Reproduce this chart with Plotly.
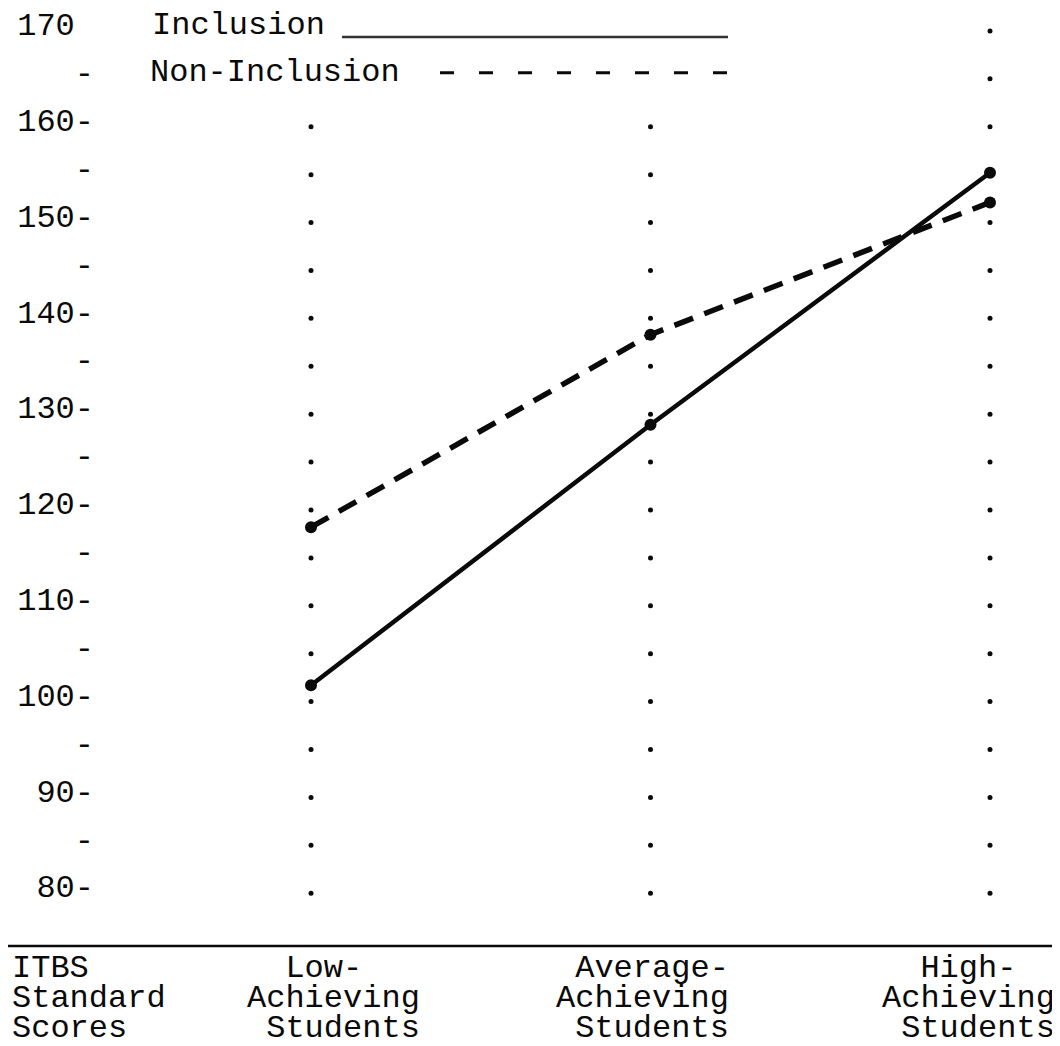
import plotly.graph_objects as go

# ---- data ----
categories = ["Low", "Average", "High"]
cat_label_lines = [
    ["\u00a0\u00a0Low-", "Achieving", "\u00a0Students"],
    ["\u00a0Average-", "Achieving", "\u00a0Students"],
    ["\u00a0\u00a0High-", "Achieving", "\u00a0Students"],
]
inclusion = [101.7, 128.9, 155.2]
non_inclusion = [118.2, 138.3, 152.1]
grid_top = [160, 160, 170]          # top dotted mark of each column
tick_vals = [170, 165, 160, 155, 150, 145, 140, 135, 130, 125, 120, 115, 110, 105, 100, 95, 90, 85, 80]
tick_text = ["170\u00a0", "-", "160-", "-", "150-", "-", "140-", "-", "130-", "-", "120-", "-",
             "110-", "-", "100-", "-", "90-", "-", "80-"]
y_title_lines = ["ITBS", "Standard", "Scores"]
legend_names = ["Inclusion", "Non-Inclusion"]

FONT = "Liberation Mono"
FS = 32
INK = "#0a0a0a"

# page offset from default body margin
OFF = 8
L_MARGIN = 90
PLOT_LEFT = OFF + L_MARGIN
W_PLOT = 1052.0 - L_MARGIN
H_PLOT = 938.0


def px_x(px):
    return (px - PLOT_LEFT) / W_PLOT


def px_y(py):
    return (946 - py) / H_PLOT


fig = go.Figure()

# dotted vertical guides
for cat, top in zip(categories, grid_top):
    ys = [v for v in tick_vals if v <= top]
    fig.add_trace(go.Scatter(x=[cat] * len(ys), y=ys, mode="markers",
                             marker=dict(size=5, color=INK), showlegend=False, hoverinfo="skip"))

fig.add_trace(go.Scatter(x=categories, y=non_inclusion, mode="lines+markers", name=legend_names[1],
                         line=dict(color=INK, width=5.5, dash="20px,12px"),
                         marker=dict(size=12, color=INK), showlegend=False))
fig.add_trace(go.Scatter(x=categories, y=inclusion, mode="lines+markers", name=legend_names[0],
                         line=dict(color=INK, width=4.5),
                         marker=dict(size=12, color=INK), showlegend=False))

annotations = []
# legend text
annotations.append(dict(xref="paper", yref="paper", x=px_x(150), y=px_y(23),
                        xanchor="left", yanchor="middle", text=legend_names[0], showarrow=False))
annotations.append(dict(xref="paper", yref="paper", x=px_x(148), y=px_y(70),
                        xanchor="left", yanchor="middle", text=legend_names[1], showarrow=False))
# category labels (3 lines each)
block_shift = [-66, -97, -110]
for cat, lines, sh in zip(categories, cat_label_lines, block_shift):
    for i, ln in enumerate(lines):
        annotations.append(dict(xref="x", yref="paper", x=cat, y=0, xanchor="left", yanchor="middle",
                                xshift=sh, yshift=-22 - 30 * i, text=ln, showarrow=False))
# y title at bottom-left
for i, ln in enumerate(y_title_lines):
    annotations.append(dict(xref="paper", yref="paper", x=px_x(10), y=0, xanchor="left", yanchor="middle",
                            yshift=-22 - 30 * i, text=ln, showarrow=False))

shapes = [
    # baseline across the full width
    dict(type="line", xref="paper", yref="paper", x0=px_x(8), x1=1, y0=0, y1=0,
         line=dict(color=INK, width=2.5)),
    dict(type="line", xref="paper", yref="paper", x0=px_x(342), x1=px_x(728),
         y0=px_y(34), y1=px_y(34), line=dict(color="#333333", width=2.5)),
    dict(type="line", xref="paper", yref="paper", x0=px_x(440), x1=px_x(728),
         y0=px_y(70), y1=px_y(70), line=dict(color=INK, width=3, dash="14px,25px")),
]

fig.update_layout(
    width=1052, height=1038,
    margin=dict(l=L_MARGIN, r=0, t=0, b=100),
    paper_bgcolor="white", plot_bgcolor="white",
    font=dict(family=FONT, size=FS, color=INK),
    showlegend=False,
    annotations=annotations,
    shapes=shapes,
    xaxis=dict(type="category", range=[-0.6274, 2.2062], showgrid=False, zeroline=False,
               showline=False, showticklabels=False, ticks=""),
    yaxis=dict(range=[74.49, 172.08], tickmode="array", tickvals=tick_vals, ticktext=tick_text,
               showgrid=False, zeroline=False, showline=False, ticks="",
               ticklabelposition="outside", ticklabelstandoff=3, ticklabelshift=-7,
               ticklabeloverflow="allow",
               tickfont=dict(family=FONT, size=FS, color=INK)),
)

fig.write_html("out.html")
